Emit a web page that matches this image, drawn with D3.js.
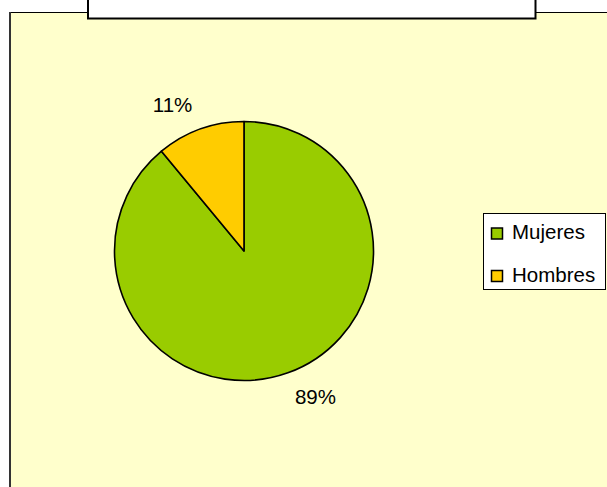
<!DOCTYPE html>
<html>
<head>
<meta charset="utf-8">
<script src="https://cdn.jsdelivr.net/npm/d3@7"></script>
<style>
  html, body { margin: 0; padding: 0; background: #ffffff; }
  svg { display: block; font-family: Arial, "Liberation Sans", sans-serif; }
</style>
</head>
<body>
<svg id="chart" width="607" height="487"></svg>
<script>
const categories = ["Mujeres", "Hombres"];
const values = [89, 11];
const labels = ["89%", "11%"];
const colors = ["#99CC00", "#FFCC00"];

const svg = d3.select("#chart");
const W = 607, H = 487;

// plot area background
svg.append("rect").attr("x", 10).attr("y", 12.5).attr("width", W - 10).attr("height", H - 12.5)
  .attr("fill", "#FFFFCC");
svg.append("line").attr("x1", 10).attr("x2", W).attr("y1", 12.5).attr("y2", 12.5)
  .attr("stroke", "#000").attr("stroke-width", 1);
svg.append("line").attr("x1", 10).attr("x2", 10).attr("y1", 12).attr("y2", H)
  .attr("stroke", "#333").attr("stroke-width", 2);

// title box (empty)
svg.append("rect").attr("x", 88).attr("y", -5).attr("width", 447.5).attr("height", 23.5)
  .attr("fill", "#fff").attr("stroke", "#000").attr("stroke-width", 2);

// pie
const cx = 244, cy = 251, r = 129.5;
const pie = d3.pie().sort(null).value(d => d.value);
const data = categories.map((c, i) => ({ name: c, value: values[i], label: labels[i], color: colors[i] }));
const arcs = pie(data);
const arc = d3.arc().innerRadius(0).outerRadius(r);
const g = svg.append("g").attr("transform", `translate(${cx},${cy})`);
g.selectAll("path").data(arcs).enter().append("path")
  .attr("d", arc)
  .attr("fill", d => d.data.color)
  .attr("stroke", "#000").attr("stroke-width", 1.6).attr("stroke-linejoin", "round");

const labelR = 162.5;
g.selectAll("text.lbl").data(arcs).enter().append("text")
  .attr("class", "lbl")
  .attr("x", d => { const a = (d.startAngle + d.endAngle) / 2 - 0.11; return labelR * Math.sin(a); })
  .attr("y", d => { const a = (d.startAngle + d.endAngle) / 2 - 0.11; return -labelR * Math.cos(a); })
  .attr("dy", "0.36em")
  .attr("text-anchor", "middle")
  .attr("font-size", 20.5)
  .attr("fill", "#000")
  .text(d => d.data.label);

// legend
const lg = svg.append("g");
lg.append("rect").attr("x", 483.5).attr("y", 213.5).attr("width", 122).attr("height", 76)
  .attr("fill", "#fff").attr("stroke", "#000").attr("stroke-width", 1);
const ly = d3.scalePoint().domain(categories).range([231.8, 274.3]);
const items = lg.selectAll("g.item").data(data).enter().append("g").attr("class", "item")
  .attr("transform", d => `translate(0,${ly(d.name)})`);
items.append("rect").attr("x", 491.5).attr("y", -3.8).attr("width", 11).attr("height", 11)
  .attr("fill", d => d.color).attr("stroke", "#000").attr("stroke-width", 1.5);
items.append("text").attr("x", 512).attr("y", 0).attr("dy", "0.36em")
  .attr("font-size", 20.5).attr("fill", "#000")
  .text(d => d.name);
</script>
</body>
</html>
